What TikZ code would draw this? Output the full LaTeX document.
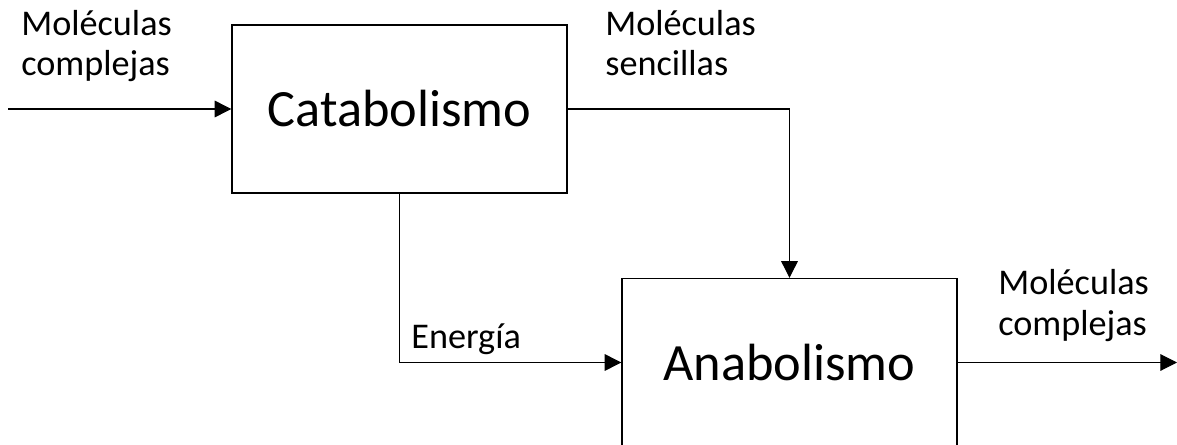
\documentclass[tikz,border=0pt]{standalone}
\usepackage{fontspec}
\setmainfont{Carlito}
\usetikzlibrary{arrows.meta}

\begin{document}
\begin{tikzpicture}[x=0.02cm,y=0.02cm,
    proceso/.style={draw,line width=0.8pt,minimum width=6.7cm,minimum height=3.36cm,
      inner sep=0pt,font=\fontsize{29.8}{34}\selectfont},
    etiqueta/.style={anchor=base west,inner sep=0pt,align=left,
      font=\fontsize{20.6}{23}\selectfont},
    flecha/.style={line width=0.6pt,-{Triangle[length=9.5pt,width=9.5pt]}}]
  \useasboundingbox (0,0) rectangle (1177,444);

  \node[proceso] (cat) at (399.5,335) {Catabolismo};
  \node[proceso] (ana) at (789.5,81.5) {Anabolismo};

  % base of the last line
  \node[etiqueta] (entra) at (21,368) {Moléculas\\complejas};
  \node[etiqueta] (sencillas) at (605,368) {Moléculas\\sencillas};
  \node[etiqueta] (energia) at (411,96) {Energía};
  \node[etiqueta] (sale) at (998,109) {Moléculas\\complejas};

  \coordinate (inicio) at (8,335);
  \coordinate (fin) at (1177,81.5);

  \draw[flecha] (inicio) -- (cat.west);
  \draw[flecha] (cat.east) -| (ana.north);
  \draw[flecha] (cat.south) |- (ana.west);
  \draw[flecha] (ana.east) -- (fin);
\end{tikzpicture}
\end{document}
